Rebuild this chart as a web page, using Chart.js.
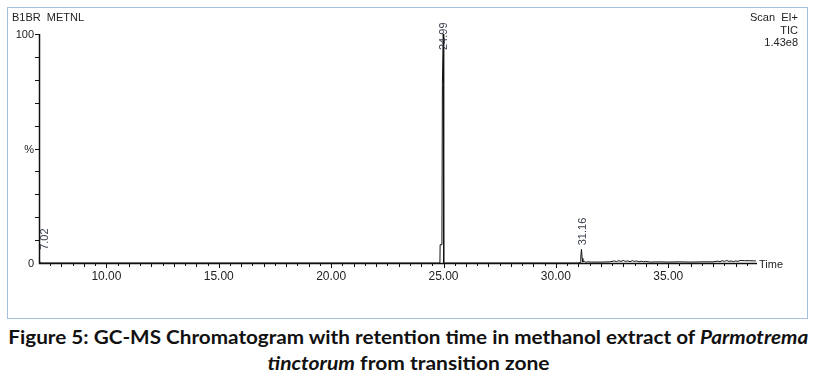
<!DOCTYPE html>
<html>
<head>
<meta charset="utf-8">
<script src="https://cdn.jsdelivr.net/npm/chart.js@4.4.1/dist/chart.umd.min.js"></script>
<style>
  body { margin: 0; background: #fff; width: 817px; height: 381px; overflow: hidden; position: relative; }
  #frame { position: absolute; left: 7px; top: 7px; width: 801px; height: 312px; box-sizing: border-box; border: 1px solid #a3c0df; }
  #wrap { position: absolute; left: 0; top: 0; width: 817px; height: 320px; }
  .cap { position: absolute; left: 0; width: 817px; text-align: center; font-family: Lato, "Open Sans", sans-serif; font-weight: bold; font-size: 19px; color: #111; white-space: nowrap; }
  .cap span.in { display: inline-block; transform-origin: center; }
</style>
</head>
<body>
<div id="frame"></div>
<div id="wrap"><canvas id="chrom" width="817" height="320"></canvas></div>
<div class="cap" style="top:325px"><span class="in" id="cap1">Figure 5: GC-MS Chromatogram with retention time in methanol extract of <i>Parmotrema</i></span></div>
<div class="cap" style="top:351px"><span class="in" id="cap2"><i>tinctorum</i> from transition zone</span></div>
<script>
// ---- data (time in min, relative abundance %) ----
const retentionTimes = [
  7.00, 7.01, 7.02, 7.03, 7.05, 10.00, 20.00, 24.84, 24.85, 24.93, 24.95, 24.99, 25.01, 25.10,
  31.00, 31.08, 31.11, 31.14, 31.17, 31.20, 31.26, 31.32, 31.40, 31.60, 32.00, 32.40,
  32.60, 32.70, 32.80, 32.90, 33.00, 33.10, 33.20, 33.30, 33.40, 33.50, 33.60, 33.70, 33.80, 33.90, 34.00,
  34.20, 34.60, 35.00, 35.50, 36.00, 36.50, 37.00, 37.20, 37.30, 37.40, 37.50, 37.60, 37.70, 37.80,
  37.90, 38.00, 38.10, 38.20, 38.40, 38.60, 38.90
];
const abundance = [
  0, 2, 4, 1, 0, 0, 0, 0, 8, 8, 78, 100, 0, 0,
  0, 0.3, 3, 6, 2, 0.4, 0.9, 0.3, 0.5, 0.4, 0.4, 0.5,
  0.9, 0.6, 1.0, 0.7, 1.1, 0.7, 0.9, 0.6, 1.0, 0.7, 0.9, 0.5, 0.8, 0.5, 0.7,
  0.4, 0.5, 0.4, 0.5, 0.4, 0.5, 0.5, 0.8, 0.6, 1.0, 0.7, 1.1, 0.7, 0.9,
  0.6, 0.9, 0.7, 1.1, 1.0, 1.0, 0.9
];
const peakTimes = [7.02, 24.99, 31.14];
const peakLabels = ['7.02', '24.99', '31.16'];
const xTickLabels = ['10.00', '15.00', '20.00', '25.00', '30.00', '35.00'];
const yTickLabels = ['0', '%', '100'];
const yTickValues = [0, 50, 100];
const headerLeft = 'B1BR  METNL';
const headerRight = ['Scan  EI+', 'TIC', '1.43e8'];

const points = retentionTimes.map((t, i) => ({ x: t, y: abundance[i] }));

const axisPlugin = {
  id: 'msAxes',
  afterDatasetsDraw(chart) {
    const { ctx, chartArea: a, scales: { x, y } } = chart;
    ctx.save();
    ctx.strokeStyle = '#111';
    ctx.fillStyle = '#222';
    // axes
    ctx.lineWidth = 1.5;
    ctx.beginPath();
    ctx.moveTo(a.left + 0.5, y.getPixelForValue(100));
    ctx.lineTo(a.left + 0.5, a.bottom + 0.5);
    ctx.lineTo(a.right, a.bottom + 0.5);
    ctx.stroke();
    // x ticks every 0.5
    ctx.lineWidth = 1;
    for (let v = 7.5; v <= 38.9; v += 0.5) {
      const px = Math.round(x.getPixelForValue(v)) + 0.5;
      const len = (Math.abs(v % 5) < 1e-6) ? 5 : (Math.abs(v % 1) < 1e-6 ? 4 : 3);
      ctx.beginPath();
      ctx.moveTo(px, a.bottom);
      ctx.lineTo(px, a.bottom + len);
      ctx.stroke();
    }
    // y ticks every 10
    for (let v = 10; v <= 100; v += 10) {
      const py = Math.round(y.getPixelForValue(v)) + 0.5;
      ctx.beginPath();
      ctx.moveTo(a.left - 4, py);
      ctx.lineTo(a.left, py);
      ctx.stroke();
    }
    ctx.font = '12px "Liberation Sans", Arial, sans-serif';
    ctx.textAlign = 'center';
    ctx.textBaseline = 'middle';
    xTickLabels.forEach(l => ctx.fillText(l, x.getPixelForValue(parseFloat(l)), a.bottom + 14));
    ctx.font = '11px "Liberation Sans", Arial, sans-serif';
    ctx.textAlign = 'right';
    yTickLabels.forEach((l, i) => ctx.fillText(l, a.left - 5, y.getPixelForValue(yTickValues[i]) + 1));
    ctx.textAlign = 'left';
    ctx.fillText('Time', a.right + 2, a.bottom + 2);
    // header
    ctx.textBaseline = 'alphabetic';
    ctx.fillText(headerLeft, 12, 21);
    ctx.textAlign = 'right';
    headerRight.forEach((l, i) => ctx.fillText(l, 798, 21 + i * 12.7));
    // peak labels, rotated
    ctx.fillStyle = '#3c4250';
    ctx.textAlign = 'left';
    ctx.textBaseline = 'middle';
    peakTimes.forEach((t, i) => {
      const idx = retentionTimes.findIndex(r => Math.abs(r - t) < 0.005);
      const px = Math.max(x.getPixelForValue(t) + 1, a.left + 6);
      const py = Math.max(y.getPixelForValue(abundance[idx]) - 4, 50);
      ctx.save();
      ctx.translate(px, py);
      ctx.rotate(-Math.PI / 2);
      ctx.fillText(peakLabels[i], 0, 0);
      ctx.restore();
    });
    ctx.restore();
  }
};

new Chart(document.getElementById('chrom'), {
  type: 'line',
  data: { datasets: [{ data: points, borderColor: '#111', borderWidth: 1, pointRadius: 0, tension: 0, fill: false }] },
  options: {
    responsive: false,
    animation: false,
    devicePixelRatio: 1,
    layout: { padding: { left: 39, top: 34, right: 60, bottom: 57 } },
    plugins: { legend: { display: false }, tooltip: { enabled: false } },
    scales: {
      x: { type: 'linear', min: 7.0, max: 38.95, display: false },
      y: { min: 0, max: 100, display: false }
    }
  },
  plugins: [axisPlugin]
});

// fit caption lines to the reference width
function fit(id, w) {
  const el = document.getElementById(id);
  const cur = el.getBoundingClientRect().width;
  el.style.transform = 'scaleX(' + (w / cur) + ')';
}
fit('cap1', 800);
fit('cap2', 282);
</script>
</body>
</html>
